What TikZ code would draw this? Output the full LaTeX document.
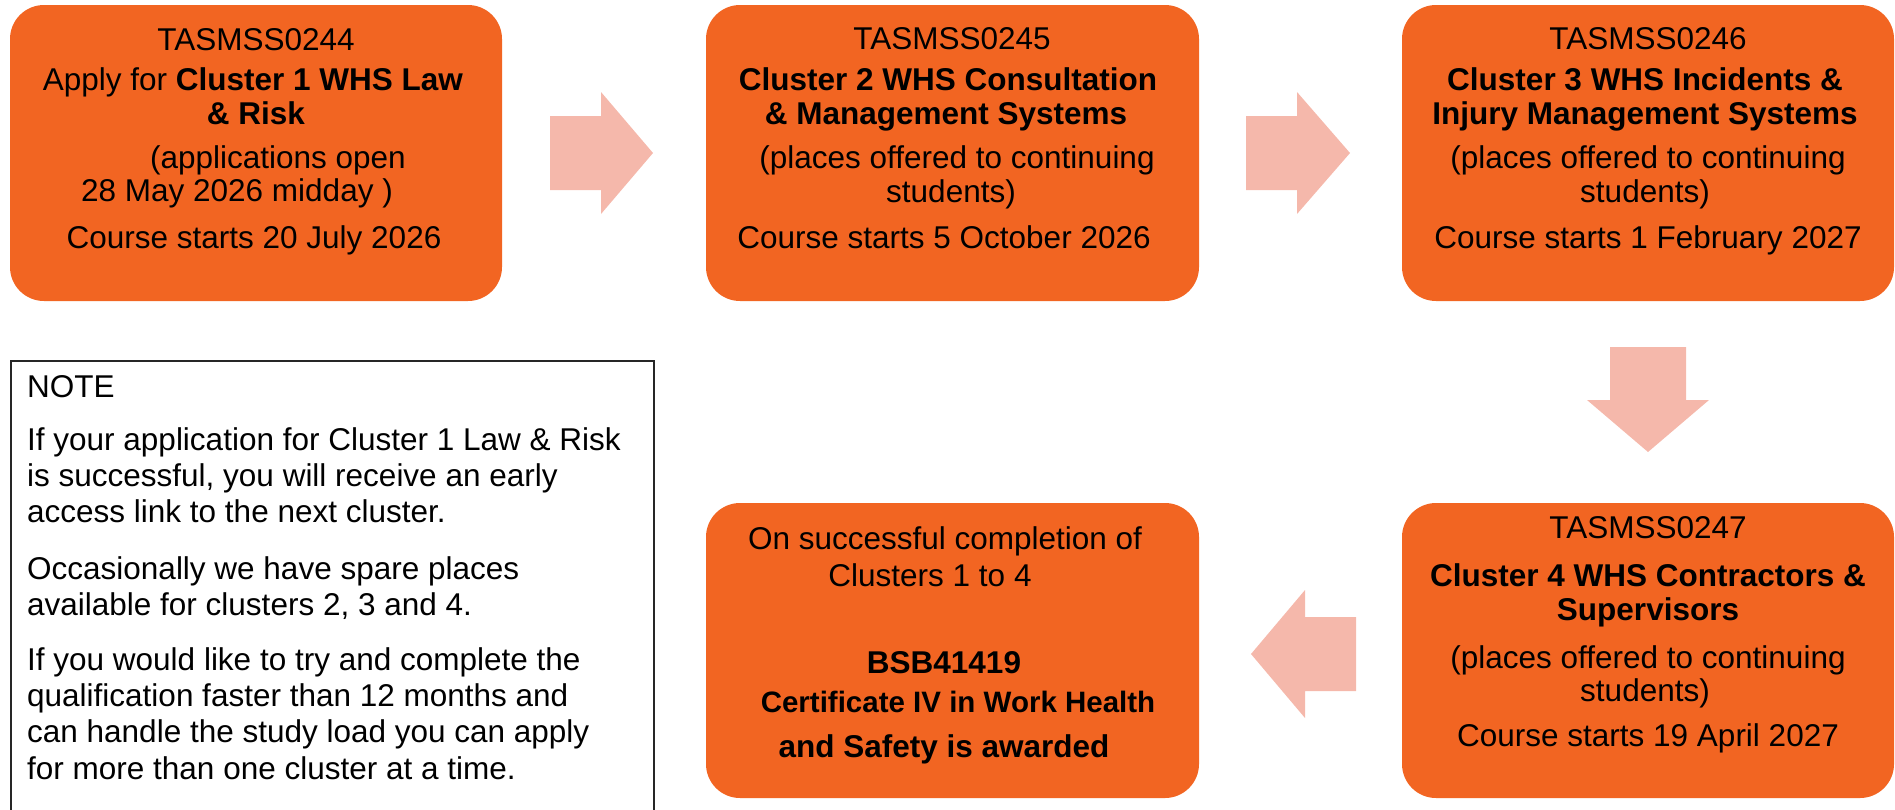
\documentclass[tikz,border=0pt]{standalone}
\usepackage{fontspec}
\setmainfont{Liberation Sans}
\definecolor{boxorange}{HTML}{F26522}
\definecolor{arrowpink}{HTML}{F5B8AB}
\tikzset{
  stagebox/.style={fill=boxorange, draw=none, rounded corners=34pt, inner sep=0pt, outer sep=0pt, anchor=north west},
  ln/.style={anchor=base, inner sep=0pt, font=\fontsize{31.5}{34}\selectfont},
  noteln/.style={anchor=base west, inner sep=0pt, font=\fontsize{31.5}{34}\selectfont},
  notebox/.style={draw=black!85, line width=1.5pt, fill=none, inner sep=0pt, anchor=north west},
  blockarrow/.style={fill=arrowpink, draw=none},
}
\begin{document}
\begin{tikzpicture}[x=1pt,y=-1pt]
\useasboundingbox (0,0) rectangle (1895,809);
\clip (0,0) rectangle (1895,809);

% stage boxes
\node[stagebox, minimum width=492pt, minimum height=296pt] (c1) at (10,5) {};
\node[stagebox, minimum width=493pt, minimum height=296pt] (c2) at (706,5) {};
\node[stagebox, minimum width=492pt, minimum height=296pt] (c3) at (1402,5) {};
\node[stagebox, minimum width=492pt, minimum height=295pt] (c4) at (1402,503) {};
\node[stagebox, minimum width=493pt, minimum height=295pt] (aw) at (706,503) {};

% note box
\node[notebox, minimum width=643pt, minimum height=480pt] (note) at (10,360) {};

% block arrows
\coordinate (a1) at (550,153);
\fill[blockarrow] (550,116) -- (601,116) -- (601,92) -- (653,153) -- (601,214) -- (601,190) -- (550,190) -- cycle;
\coordinate (a2) at (1246,153);
\fill[blockarrow] (1246,116) -- (1297,116) -- (1297,92) -- (1350,153) -- (1297,214) -- (1297,190) -- (1246,190) -- cycle;
\coordinate (a3) at (1648,347);
\fill[blockarrow] (1610,347) -- (1686,347) -- (1686,400) -- (1709,400) -- (1648,452) -- (1587,400) -- (1610,400) -- cycle;
\coordinate (a4) at (1356,654);
\fill[blockarrow] (1356,617) -- (1305,617) -- (1305,590) -- (1251,654) -- (1305,718) -- (1305,691) -- (1356,691) -- cycle;

% box 1 text
\node[ln] (c1l1) at (256,50) {TASMSS0244};
\node[ln] (c1l2) at (253,90) {Apply for \textbf{Cluster 1 WHS Law}};
\node[ln] (c1l3) at (256,124) {\textbf{\& Risk}};
\node[ln] (c1l4) at (278,168) {(applications open};
\node[ln] (c1l5) at (237,201) {28 May 2026 midday )};
\node[ln] (c1l6) at (254,248) {Course starts 20 July 2026};

% box 2 text
\node[ln] (c2l1) at (952,49) {TASMSS0245};
\node[ln] (c2l2) at (948,90) {\textbf{Cluster 2 WHS Consultation}};
\node[ln] (c2l3) at (946,124) {\textbf{\& Management Systems}};
\node[ln] (c2l4) at (957,168) {(places offered to continuing};
\node[ln] (c2l5) at (951,202) {students)};
\node[ln] (c2l6) at (944,248) {Course starts 5 October 2026};

% box 3 text
\node[ln] (c3l1) at (1648,49) {TASMSS0246};
\node[ln] (c3l2) at (1645,90) {\textbf{Cluster 3 WHS Incidents \&}};
\node[ln] (c3l3) at (1645,124) {\textbf{Injury Management Systems}};
\node[ln] (c3l4) at (1648,168) {(places offered to continuing};
\node[ln] (c3l5) at (1645,202) {students)};
\node[ln] (c3l6) at (1648,248) {Course starts 1 February 2027};

% box 4 text
\node[ln] (c4l1) at (1648,538) {TASMSS0247};
\node[ln] (c4l2) at (1648,586) {\textbf{Cluster 4 WHS Contractors \&}};
\node[ln] (c4l3) at (1648,620) {\textbf{Supervisors}};
\node[ln] (c4l4) at (1648,668) {(places offered to continuing};
\node[ln] (c4l5) at (1645,701) {students)};
\node[ln] (c4l6) at (1648,746) {Course starts 19 April 2027};

% award box text
\node[ln] (awl1) at (945,549) {On successful completion of};
\node[ln] (awl2) at (930,586) {Clusters 1 to 4};
\node[ln] (awl3) at (944,673) {\textbf{BSB41419}};
\node[ln, font=\fontsize{29.5}{34}\selectfont] (awl4) at (958,712) {\textbf{Certificate IV in Work Health}};
\node[ln] (awl5) at (944,757) {\textbf{and Safety is awarded}};

% note text
\node[noteln] (n0) at (27,397) {NOTE};
\node[noteln] (n1) at (27,450) {If your application for Cluster 1 Law \& Risk};
\node[noteln] (n2) at (27,486) {is successful, you will receive an early};
\node[noteln] (n3) at (27,522) {access link to the next cluster.};
\node[noteln] (n4) at (27,579) {Occasionally we have spare places};
\node[noteln] (n5) at (27,615) {available for clusters 2, 3 and 4.};
\node[noteln] (n6) at (27,670) {If you would like to try and complete the};
\node[noteln] (n7) at (27,706) {qualification faster than 12 months and};
\node[noteln] (n8) at (27,742) {can handle the study load you can apply};
\node[noteln] (n9) at (27,779) {for more than one cluster at a time.};
\end{tikzpicture}
\end{document}
